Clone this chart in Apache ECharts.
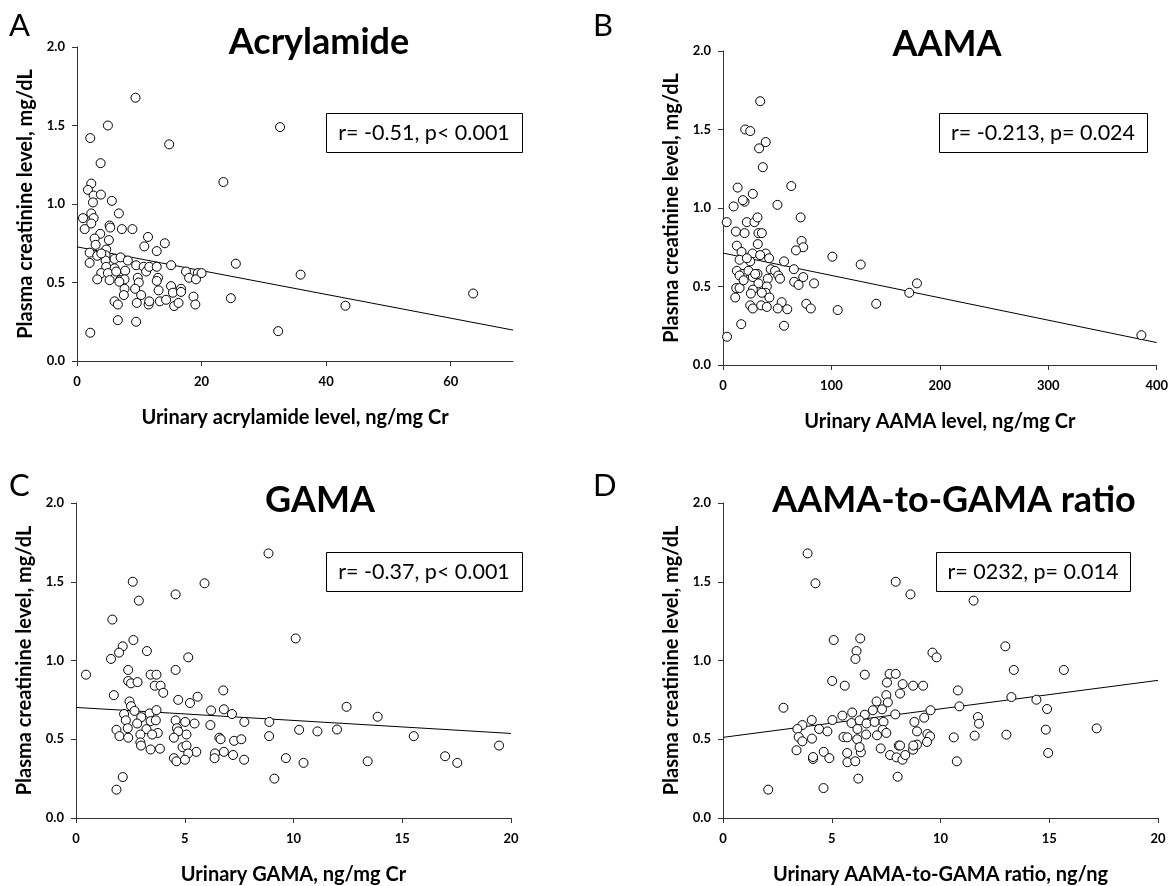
<!DOCTYPE html>
<html>
<head>
<meta charset="utf-8">
<script src="https://cdn.jsdelivr.net/npm/echarts@6/dist/echarts.min.js"></script>
<style>html,body{margin:0;padding:0;background:#fff}#c{width:1171px;height:886px}</style>
</head>
<body>
<div id="c"></div>
<script>
// ---------- DATA ----------
const panelLetters = ['A', 'B', 'C', 'D'];
const panelTitles = ['Acrylamide', 'AAMA', 'GAMA', 'AAMA-to-GAMA ratio'];
const xAxisNames = ['Urinary acrylamide level, ng/mg Cr', 'Urinary AAMA level, ng/mg Cr', 'Urinary GAMA, ng/mg Cr', 'Urinary AAMA-to-GAMA ratio, ng/ng'];
const yAxisName = 'Plasma creatinine level, mg/dL';
const statLabels = ['r= -0.51, p< 0.001', 'r= -0.213, p= 0.024', 'r= -0.37, p< 0.001', 'r= 0232, p= 0.014'];
const xMax = [70, 400, 20, 20];
const xInterval = [20, 100, 5, 5];
const xTickLabels = [[0, 20, 40, 60], [0, 100, 200, 300, 400], [0, 5, 10, 15, 20], [0, 5, 10, 15, 20]];
const yTickLabels = [0, 0.5, 1.0, 1.5, 2.0];

const acrylamidePoints = [[9.39,1.677],[4.96,1.50],[2.13,1.42],[32.6,1.49],[14.8,1.38],[3.79,1.26],[23.5,1.14],[2.29,1.13],[1.76,1.09],[2.67,1.054],[3.84,1.06],[2.56,1.01],[5.6,1.02],[6.72,0.94],[2.29,0.94],[0.96,0.91],[2.67,0.91],[2.29,0.876],[1.23,0.84],[5.23,0.863],[5.33,0.85],[7.2,0.84],[8.9,0.84],[3.73,0.81],[11.4,0.79],[2.83,0.78],[5.12,0.77],[10.8,0.73],[14.1,0.75],[2.99,0.74],[12.8,0.70],[2.03,0.69],[4.69,0.71],[3.25,0.67],[4.59,0.674],[2.03,0.625],[4.59,0.64],[6.03,0.65],[6.99,0.66],[8.16,0.64],[4.69,0.60],[6.03,0.59],[3.89,0.56],[4.96,0.56],[6.29,0.57],[9.49,0.61],[10.7,0.60],[11.1,0.57],[11.6,0.60],[12.8,0.60],[15.1,0.61],[7.73,0.575],[3.25,0.52],[5.23,0.515],[6.93,0.515],[7.63,0.52],[9.76,0.53],[9.92,0.50],[13.0,0.53],[12.8,0.51],[17.5,0.57],[18.0,0.53],[19.4,0.56],[19.1,0.52],[20.0,0.56],[25.5,0.62],[35.9,0.55],[7.63,0.46],[9.33,0.46],[13.1,0.45],[15.1,0.477],[16.7,0.46],[15.4,0.435],[16.7,0.44],[7.52,0.42],[10.3,0.42],[6.03,0.38],[6.56,0.36],[9.6,0.37],[11.5,0.36],[11.6,0.38],[13.3,0.38],[14.3,0.39],[15.6,0.35],[16.3,0.37],[18.7,0.41],[19.0,0.36],[24.7,0.40],[6.56,0.26],[9.49,0.25],[2.13,0.18],[32.3,0.19],[43.1,0.352],[63.6,0.43],[3.9,0.685],[6.8,0.505]];

const aamaPoints = [[34.3,1.68],[20.5,1.50],[25.1,1.49],[39.4,1.42],[33.3,1.38],[36.7,1.26],[63,1.14],[13.5,1.13],[27.5,1.09],[9.8,1.01],[19.9,1.04],[18.3,1.05],[50.2,1.02],[3.4,0.91],[22,0.91],[29,0.91],[31.8,0.94],[71.6,0.94],[11.9,0.85],[19.9,0.84],[32.7,0.84],[35.8,0.84],[32.1,0.77],[12.8,0.76],[72.5,0.79],[74,0.75],[67.3,0.73],[17.1,0.72],[39.4,0.71],[27.2,0.71],[34.3,0.70],[100.9,0.69],[127,0.64],[15.3,0.67],[25.1,0.66],[42.5,0.68],[56.3,0.66],[12.8,0.60],[18.3,0.58],[23.5,0.60],[31.8,0.58],[44,0.61],[48,0.60],[65.4,0.61],[15.3,0.57],[27.5,0.56],[41.3,0.55],[51,0.57],[52.6,0.55],[74,0.56],[65.7,0.53],[84,0.52],[69.7,0.51],[12.2,0.49],[15.3,0.49],[32.7,0.52],[40.4,0.50],[27.5,0.48],[11.3,0.43],[25.7,0.455],[39.4,0.46],[42.8,0.43],[54.1,0.40],[25.1,0.38],[27.5,0.36],[35.2,0.38],[40.4,0.37],[50.5,0.36],[59.3,0.355],[76.8,0.39],[81,0.36],[105.8,0.35],[141.3,0.39],[16.8,0.26],[56.3,0.25],[3.7,0.18],[22,0.68],[29.7,0.58],[19,0.54],[35.8,0.46],[171.8,0.46],[178.9,0.52],[385.9,0.19]];

const gamaPoints = [[0.46,0.91],[2.61,1.50],[2.89,1.38],[4.58,1.42],[5.91,1.49],[8.85,1.68],[10.1,1.14],[1.67,1.26],[2.64,1.13],[2.15,1.09],[1.98,1.05],[1.61,1.01],[3.26,1.06],[5.16,1.02],[2.4,0.94],[4.58,0.94],[2.4,0.87],[2.53,0.855],[2.83,0.863],[3.43,0.91],[3.7,0.91],[3.62,0.84],[3.89,0.84],[4.01,0.795],[1.74,0.78],[6.77,0.81],[4.7,0.75],[5.24,0.73],[5.59,0.77],[2.46,0.74],[2.53,0.71],[2.69,0.68],[2.21,0.66],[3.38,0.664],[3.7,0.685],[6.21,0.683],[6.8,0.69],[7.17,0.66],[2.29,0.62],[3.0,0.64],[2.81,0.60],[3.43,0.615],[3.67,0.62],[4.58,0.62],[5.02,0.61],[5.45,0.60],[7.74,0.61],[8.89,0.61],[1.86,0.56],[2.38,0.57],[3.24,0.564],[3.76,0.54],[4.64,0.57],[4.7,0.55],[6.18,0.59],[10.26,0.56],[11.1,0.55],[2.0,0.52],[2.4,0.51],[2.96,0.53],[3.5,0.53],[4.5,0.51],[5.08,0.53],[6.59,0.51],[8.88,0.52],[2.96,0.48],[2.99,0.46],[3.43,0.435],[3.86,0.44],[4.9,0.45],[5.08,0.46],[6.65,0.50],[7.27,0.49],[7.6,0.50],[5.53,0.42],[6.39,0.41],[6.8,0.42],[7.22,0.40],[5.16,0.41],[4.5,0.38],[4.62,0.36],[5.01,0.37],[6.37,0.38],[7.73,0.37],[9.65,0.38],[10.46,0.35],[9.12,0.25],[2.15,0.26],[1.86,0.18],[12.44,0.706],[12.0,0.562],[13.87,0.643],[15.53,0.52],[13.41,0.36],[16.97,0.392],[17.53,0.35],[19.45,0.46]];

const ratioPoints = [[3.89,1.68],[4.25,1.49],[7.94,1.50],[8.62,1.42],[5.09,1.13],[6.31,1.14],[6.14,1.06],[6.09,1.01],[9.63,1.05],[9.82,1.02],[5.02,0.87],[5.6,0.84],[6.52,0.91],[7.66,0.915],[7.94,0.915],[7.54,0.86],[8.26,0.85],[8.14,0.79],[8.74,0.84],[9.2,0.84],[7.51,0.78],[7.06,0.74],[7.58,0.734],[2.78,0.70],[7.31,0.69],[6.89,0.684],[9.54,0.684],[5.94,0.67],[5.49,0.65],[6.52,0.656],[7.92,0.658],[9.25,0.637],[4.08,0.622],[3.65,0.59],[5.03,0.622],[5.91,0.603],[6.28,0.62],[6.6,0.60],[6.97,0.61],[7.38,0.61],[8.8,0.61],[3.42,0.565],[4.42,0.565],[4.8,0.55],[6.18,0.565],[7.34,0.56],[8.92,0.55],[3.48,0.514],[3.65,0.487],[4.09,0.504],[5.54,0.514],[5.72,0.512],[6.17,0.50],[6.58,0.53],[7.08,0.525],[7.51,0.54],[9.4,0.533],[9.52,0.518],[9.38,0.483],[3.38,0.43],[4.14,0.375],[4.14,0.387],[4.63,0.42],[4.89,0.38],[5.71,0.413],[5.72,0.354],[6.08,0.36],[6.34,0.417],[6.28,0.45],[7.25,0.442],[7.68,0.40],[7.98,0.385],[8.08,0.46],[8.14,0.46],[8.25,0.37],[8.38,0.40],[8.74,0.434],[8.92,0.466],[8.75,0.46],[6.22,0.25],[8.03,0.262],[4.62,0.19],[2.08,0.18],[11.52,1.38],[12.98,1.09],[13.37,0.94],[15.67,0.94],[10.8,0.81],[13.26,0.768],[14.41,0.751],[10.87,0.709],[14.9,0.692],[11.72,0.641],[11.77,0.599],[10.61,0.512],[11.57,0.523],[13.03,0.529],[14.84,0.561],[17.18,0.569],[10.75,0.36],[14.95,0.413]];

// regression line end points
const acrylamideFit = [[0, 0.727], [70, 0.197]];
const aamaFit = [[0, 0.713], [400, 0.143]];
const gamaFit = [[0, 0.702], [20, 0.537]];
const ratioFit = [[0, 0.512], [20, 0.874]];

// ---------- LAYOUT ----------
const pointSets = [acrylamidePoints, aamaPoints, gamaPoints, ratioPoints];
const fitSets = [acrylamideFit, aamaFit, gamaFit, ratioFit];
const grids = [
  {left: 77, top: 47, width: 436, height: 314},
  {left: 723, top: 51, width: 435, height: 314},
  {left: 76, top: 503, width: 435, height: 315},
  {left: 723, top: 503, width: 435, height: 315}
];
const titlePos = [[319, 42], [947, 44], [320, 500], [954, 500]];
const letterPos = [[9, 26], [593, 26], [9, 486], [593, 486]];
const boxes = [[326, 113, 196, 39], [939, 113, 208, 39], [326, 552, 196, 39], [936, 552, 194, 39]];

const FONT = 'Lato, "Open Sans", sans-serif';
const axisColor = '#333';

const option = {
  backgroundColor: '#fff',
  animation: false,
  grid: grids.map(g => Object.assign({containLabel: false}, g)),
  xAxis: grids.map((g, i) => ({
    type: 'value', gridIndex: i, min: 0, max: xMax[i], interval: xInterval[i],
    name: xAxisNames[i], nameLocation: 'middle', nameGap: 47,
    nameTextStyle: {fontFamily: FONT, fontWeight: 'bold', fontSize: 20, color: '#000'},
    axisLine: {show: true, onZero: false, lineStyle: {color: axisColor, width: 1}},
    axisTick: {show: true, length: 5, inside: false, customValues: xTickLabels[i], lineStyle: {color: axisColor}},
    axisLabel: {customValues: xTickLabels[i], margin: 14, fontFamily: FONT, fontWeight: 'bold', fontSize: 13, color: '#000'},
    splitLine: {show: false}
  })),
  yAxis: grids.map((g, i) => ({
    type: 'value', gridIndex: i, min: 0, max: 2, interval: 0.5,
    name: yAxisName, nameLocation: 'middle', nameGap: 41,
    nameTextStyle: {fontFamily: FONT, fontWeight: 'bold', fontSize: 20, color: '#000'},
    axisLine: {show: true, lineStyle: {color: axisColor, width: 1}},
    axisTick: {show: true, length: 5, customValues: yTickLabels, lineStyle: {color: axisColor}},
    axisLabel: {customValues: yTickLabels, margin: 12, fontFamily: FONT, fontWeight: 'bold', fontSize: 13, color: '#000',
      formatter: v => v.toFixed(1)},
    splitLine: {show: false}
  })),
  series: [].concat(
    fitSets.map((d, i) => ({
      type: 'line', xAxisIndex: i, yAxisIndex: i, data: d, showSymbol: false, symbol: 'none',
      lineStyle: {color: '#000', width: 1}, z: 1, silent: true
    })),
    pointSets.map((d, i) => ({
      type: 'scatter', xAxisIndex: i, yAxisIndex: i, data: d, symbol: 'circle', symbolSize: 9,
      itemStyle: {color: '#fff', borderColor: '#000', borderWidth: 1, opacity: 1}, z: 3
    }))
  ),
  graphic: [].concat(
    panelTitles.map((t, i) => ({
      type: 'text', x: titlePos[i][0], y: titlePos[i][1], z: 10,
      style: {text: t, fill: '#000', font: 'bold 36px ' + FONT, textAlign: 'center', textVerticalAlign: 'middle'}
    })),
    panelLetters.map((t, i) => ({
      type: 'text', x: letterPos[i][0], y: letterPos[i][1], z: 10,
      style: {text: t, fill: '#000', font: '31px ' + FONT, textAlign: 'left', textVerticalAlign: 'middle'}
    })),
    boxes.map((b, i) => ({
      type: 'rect', z: 10, shape: {x: b[0] + 0.5, y: b[1] + 0.5, width: b[2], height: b[3]},
      style: {fill: '#fff', stroke: '#000', lineWidth: 1}
    })),
    boxes.map((b, i) => ({
      type: 'text', z: 11, x: b[0] + b[2] / 2, y: b[1] + b[3] / 2 + 1,
      style: {text: statLabels[i], fill: '#000', font: '21.5px ' + FONT, textAlign: 'center', textVerticalAlign: 'middle'}
    }))
  )
};

const chart = echarts.init(document.getElementById('c'), null, {renderer: 'canvas'});
chart.setOption(option);
</script>
</body>
</html>
